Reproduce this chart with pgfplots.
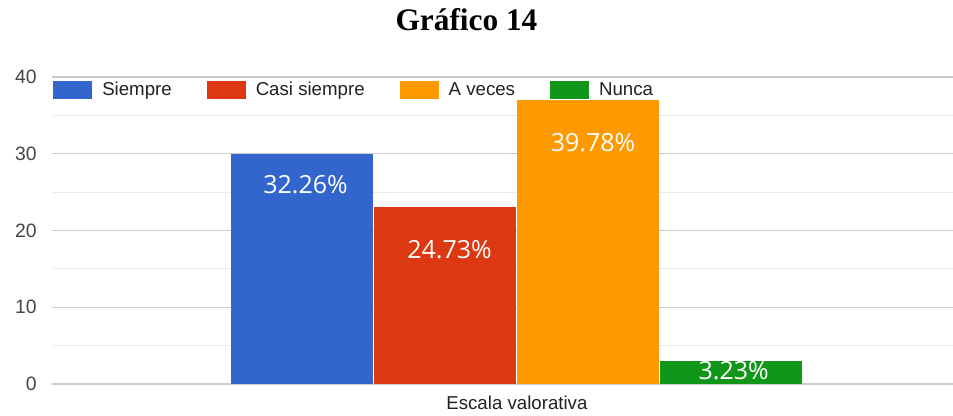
\documentclass[border=0pt]{standalone}
\usepackage{fontspec}
\setmainfont{Liberation Sans}
\newfontfamily\titlefont{Liberation Serif}
\newfontfamily\barfont{Open Sans}
\usepackage{pgfplots}
\pgfplotsset{compat=1.18}
\definecolor{gblue}{HTML}{3366CC}
\definecolor{gred}{HTML}{DC3912}
\definecolor{gorange}{HTML}{FF9900}
\definecolor{ggreen}{HTML}{109618}
\begin{document}
\begin{tikzpicture}
  % page = 953 x 416 px at 0.75pt per px
  \useasboundingbox (-39pt,-24pt) rectangle (675.75pt,288pt);
  \begin{axis}[
    scale only axis,
    width=675.75pt, height=230.25pt,
    xmin=52, xmax=953,
    ymin=0, ymax=40,
    ytick={0,10,20,30,40},
    minor ytick={5,15,25,35},
    xtick=\empty,
    ymajorgrids, yminorgrids,
    major grid style={draw=black!20, line width=0.9pt},
    minor grid style={draw=black!8, line width=0.9pt},
    extra y ticks={0},
    extra y tick labels={},
    extra y tick style={grid style={draw=black!80, line width=1.5pt}},
    axis line style={draw=none},
    tick style={draw=none},
    /pgf/number format/assume math mode=true,
    yticklabel style={font=\fontsize{14.5}{16}\selectfont, text=black!73,
      inner sep=0pt, xshift=-11.25pt},
    title={Gráfico 14},
    title style={at={(0.46,1)}, anchor=base, yshift=28.5pt, inner sep=0pt,
      font=\titlefont\bfseries\fontsize{23.5}{26}\selectfont},
    xlabel={Escala valorativa},
    xlabel style={at={(axis description cs:0.516,0)}, anchor=north,
      inner sep=0pt, yshift=-9pt,
      font=\fontsize{14}{16}\selectfont, text=black!87},
    legend columns=4,
    legend cell align=left,
    legend image code/.code={\fill[#1,draw=none] (0pt,-6.4pt) rectangle (29.25pt,6.4pt);},
    legend style={at={(rel axis cs:0.0011,0.9577)}, anchor=west,
      draw=none, fill=none, inner sep=0pt,
      font=\fontsize{14}{16}\selectfont, text=black!87,
      nodes={inner sep=0pt},
      /tikz/every odd column/.append style={column sep=7.5pt},
      /tikz/every even column/.append style={column sep=26.25pt}},
  ]
    \addplot[ybar, bar width=142, bar shift=0pt, fill=gblue, draw=none,
      nodes near coords={32.26\%},
      every node near coord/.append style={font=\barfont\fontsize{18.75}{20}\selectfont,
        text=white, anchor=center, xshift=2.6pt, yshift=-23.25pt}]
      coordinates {(302,30)};
    \addplot[ybar, bar width=142, bar shift=0pt, fill=gred, draw=none,
      nodes near coords={24.73\%},
      every node near coord/.append style={font=\barfont\fontsize{18.75}{20}\selectfont,
        text=white, anchor=center, xshift=3.4pt, yshift=-31.5pt}]
      coordinates {(445,23)};
    \addplot[ybar, bar width=142, bar shift=0pt, fill=gorange, draw=none,
      nodes near coords={39.78\%},
      every node near coord/.append style={font=\barfont\fontsize{18.75}{20}\selectfont,
        text=white, anchor=center, xshift=3.8pt, yshift=-32.25pt}]
      coordinates {(588,37)};
    \addplot[ybar, bar width=142, bar shift=0pt, fill=ggreen, draw=none,
      nodes near coords={3.23\%},
      every node near coord/.append style={font=\barfont\fontsize{18.75}{20}\selectfont,
        text=white, anchor=center, xshift=2pt, yshift=-7.1pt}]
      coordinates {(731,3)};
    \legend{Siempre, Casi siempre, A veces, Nunca}
  \end{axis}
\end{tikzpicture}
\end{document}
